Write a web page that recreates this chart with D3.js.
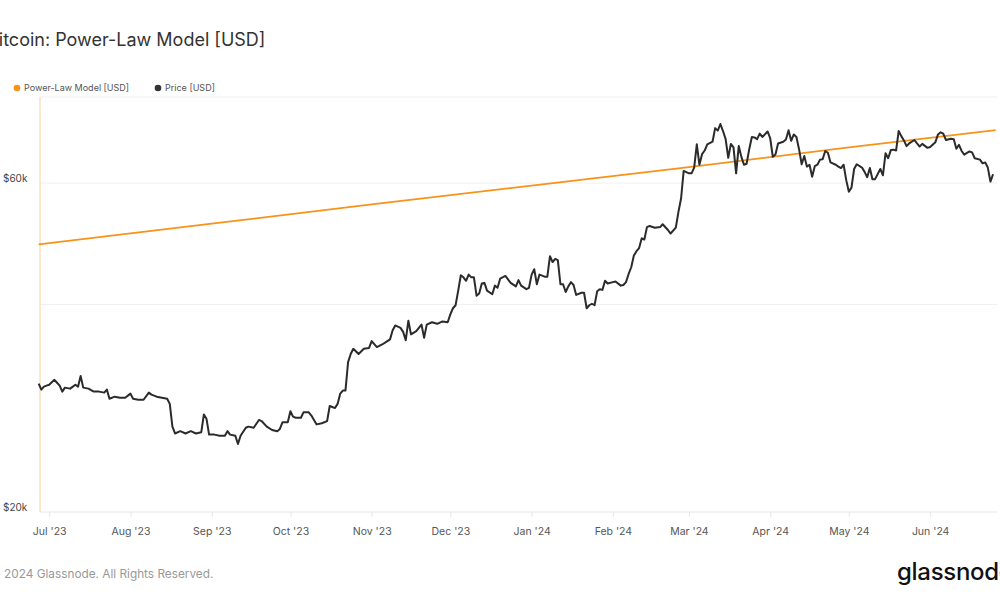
<!DOCTYPE html>
<html>
<head>
<meta charset="utf-8">
<script src="https://cdn.jsdelivr.net/npm/d3@7"></script>
<style>
  body { margin: 0; background: #fff; }
  svg { display: block; font-family: Inter, "Noto Sans", sans-serif; }
</style>
</head>
<body>
<svg id="chart" width="1000" height="600"></svg>
<script>
// price, USD (thousands)
var priceDates = [
  "2023-06-27","2023-06-28","2023-06-29","2023-06-30","2023-07-01","2023-07-03","2023-07-04","2023-07-05","2023-07-06","2023-07-07",
  "2023-07-09","2023-07-11","2023-07-12","2023-07-13","2023-07-14","2023-07-16","2023-07-18","2023-07-20","2023-07-22","2023-07-23",
  "2023-07-24","2023-07-26","2023-07-28","2023-07-30","2023-08-01","2023-08-02","2023-08-04","2023-08-06","2023-08-08","2023-08-09",
  "2023-08-11","2023-08-13","2023-08-15","2023-08-16","2023-08-17","2023-08-18","2023-08-20","2023-08-22","2023-08-24","2023-08-26",
  "2023-08-28","2023-08-29","2023-08-30","2023-08-31","2023-09-02","2023-09-04","2023-09-06","2023-09-07","2023-09-08","2023-09-10",
  "2023-09-11","2023-09-12","2023-09-14","2023-09-15","2023-09-17","2023-09-19","2023-09-20","2023-09-22","2023-09-24","2023-09-26",
  "2023-09-27","2023-09-28","2023-09-30","2023-10-01","2023-10-02","2023-10-03","2023-10-05","2023-10-06","2023-10-08","2023-10-09",
  "2023-10-11","2023-10-13","2023-10-15","2023-10-16","2023-10-17","2023-10-18","2023-10-19","2023-10-20","2023-10-21","2023-10-22",
  "2023-10-23","2023-10-24","2023-10-25","2023-10-27","2023-10-29","2023-10-31","2023-11-01","2023-11-03","2023-11-05","2023-11-07",
  "2023-11-08","2023-11-09","2023-11-10","2023-11-12","2023-11-13","2023-11-14","2023-11-15","2023-11-16","2023-11-18","2023-11-20",
  "2023-11-21","2023-11-22","2023-11-24","2023-11-26","2023-11-28","2023-11-30","2023-12-01","2023-12-02","2023-12-03","2023-12-04",
  "2023-12-05","2023-12-06","2023-12-07","2023-12-08","2023-12-09","2023-12-10","2023-12-11","2023-12-12","2023-12-13","2023-12-14",
  "2023-12-15","2023-12-17","2023-12-18","2023-12-19","2023-12-20","2023-12-22","2023-12-24","2023-12-26","2023-12-27","2023-12-28",
  "2023-12-30","2023-12-31","2024-01-01","2024-01-02","2024-01-03","2024-01-04","2024-01-06","2024-01-07","2024-01-08","2024-01-09",
  "2024-01-10","2024-01-11","2024-01-12","2024-01-13","2024-01-14","2024-01-15","2024-01-16","2024-01-17","2024-01-18","2024-01-20",
  "2024-01-21","2024-01-22","2024-01-23","2024-01-24","2024-01-25","2024-01-26","2024-01-27","2024-01-28","2024-01-29","2024-01-30",
  "2024-02-01","2024-02-02","2024-02-04","2024-02-05","2024-02-06","2024-02-07","2024-02-08","2024-02-09","2024-02-10","2024-02-11",
  "2024-02-12","2024-02-13","2024-02-14","2024-02-15","2024-02-17","2024-02-19","2024-02-20","2024-02-22","2024-02-23","2024-02-25",
  "2024-02-26","2024-02-27","2024-02-28","2024-03-01","2024-03-02","2024-03-03","2024-03-04","2024-03-05","2024-03-06","2024-03-07",
  "2024-03-08","2024-03-10","2024-03-11","2024-03-12","2024-03-13","2024-03-14","2024-03-15","2024-03-16","2024-03-17","2024-03-18",
  "2024-03-19","2024-03-20","2024-03-21","2024-03-22","2024-03-23","2024-03-24","2024-03-25","2024-03-26","2024-03-27","2024-03-28",
  "2024-03-29","2024-03-31","2024-04-01","2024-04-02","2024-04-03","2024-04-04","2024-04-06","2024-04-07","2024-04-08","2024-04-09",
  "2024-04-10","2024-04-11","2024-04-12","2024-04-13","2024-04-14","2024-04-15","2024-04-16","2024-04-17","2024-04-18","2024-04-19",
  "2024-04-20","2024-04-21","2024-04-22","2024-04-23","2024-04-24","2024-04-26","2024-04-27","2024-04-28","2024-04-29","2024-04-30",
  "2024-05-01","2024-05-02","2024-05-03","2024-05-04","2024-05-06","2024-05-07","2024-05-08","2024-05-09","2024-05-10","2024-05-11",
  "2024-05-13","2024-05-14","2024-05-15","2024-05-16","2024-05-17","2024-05-18","2024-05-19","2024-05-20","2024-05-21","2024-05-22",
  "2024-05-23","2024-05-24","2024-05-26","2024-05-27","2024-05-28","2024-05-29","2024-05-31","2024-06-01","2024-06-03","2024-06-04",
  "2024-06-05","2024-06-06","2024-06-07","2024-06-09","2024-06-10","2024-06-11","2024-06-12","2024-06-13","2024-06-14","2024-06-16",
  "2024-06-17","2024-06-18","2024-06-20","2024-06-21","2024-06-22","2024-06-23","2024-06-24","2024-06-25"
];
var priceValues = [
  30.7,30.1,30.4,30.5,30.6,31.1,30.8,30.5,29.9,30.3,
  30.2,30.6,30.4,31.5,30.3,30.2,29.9,29.9,29.8,30.1,
  29.2,29.4,29.3,29.3,29.7,29.2,29.1,29.1,29.8,29.6,
  29.4,29.3,29.2,28.7,26.6,26.0,26.2,26.0,26.2,26.0,
  26.1,27.7,27.3,25.9,25.9,25.8,25.8,26.2,25.9,25.8,
  25.1,25.8,26.5,26.6,26.5,27.2,27.1,26.6,26.3,26.2,
  26.4,27.0,27.0,28.0,27.5,27.4,27.4,27.9,27.9,27.6,
  26.8,26.9,27.1,28.5,28.4,28.3,28.7,29.7,30.0,30.0,
  33.0,33.9,34.5,33.9,34.5,34.6,35.4,34.7,35.0,35.4,
  35.6,36.7,37.3,37.0,36.5,35.5,37.9,36.2,36.6,37.4,
  35.8,37.4,37.7,37.5,37.8,37.7,38.7,39.5,39.9,41.9,
  44.1,43.8,43.3,44.2,43.8,43.8,41.2,41.5,42.9,43.0,
  41.9,41.4,42.6,42.3,43.6,44.0,43.0,42.5,43.4,42.6,
  42.1,42.3,44.2,45.0,42.8,44.2,43.9,43.9,47.0,46.1,
  46.6,46.4,42.8,42.8,41.7,42.5,43.1,42.7,41.3,41.6,
  41.6,39.5,39.9,40.1,39.9,41.8,42.1,42.0,43.3,42.9,
  43.1,43.2,42.6,42.7,43.1,44.3,45.3,47.1,47.8,48.3,
  49.9,49.7,51.8,52.0,51.7,51.8,52.3,51.3,50.7,51.7,
  54.5,57.0,62.5,62.0,62.0,63.2,68.3,63.8,66.1,66.9,
  68.3,68.9,72.1,71.5,73.1,71.4,69.5,65.3,68.4,67.6,
  62.0,67.9,65.5,63.8,64.0,67.2,70.0,69.9,69.5,70.8,
  70.0,71.3,69.7,65.5,66.0,68.5,68.9,69.4,71.6,69.1,
  70.6,70.0,67.2,63.9,65.7,63.4,63.8,61.3,63.5,63.8,
  64.9,65.0,66.8,66.4,64.3,63.8,63.4,63.1,63.8,60.6,
  58.3,59.1,62.9,63.9,63.2,62.3,61.2,63.1,60.8,60.8,
  62.9,61.6,66.3,65.2,67.0,67.1,66.9,71.4,70.2,69.2,
  67.9,68.5,69.3,68.5,67.8,68.4,67.5,67.7,68.8,70.6,
  71.1,70.8,69.3,69.6,69.5,67.3,68.2,66.8,66.0,66.7,
  66.5,65.2,64.9,64.1,64.3,63.2,60.3,61.8
];

// power-law model, USD (thousands)
var modelDates = ["2023-06-27","2023-09-01","2023-11-01","2024-01-01","2024-03-01","2024-05-01","2024-06-26"];
var modelValues = [48.9, 52.4, 55.9, 59.5, 63.3, 67.6, 71.6];

var monthTicks = ["2023-07-01","2023-08-01","2023-09-01","2023-10-01","2023-11-01","2023-12-01",
                  "2024-01-01","2024-02-01","2024-03-01","2024-04-01","2024-05-01","2024-06-01"];
var gridValues = [20, 40, 60, 80];
var labelValues = [20, 60];

var parse = d3.timeParse("%Y-%m-%d");
var price = priceDates.map((d, i) => ({date: parse(d), value: priceValues[i] * 1000}));
var model = modelDates.map((d, i) => ({date: parse(d), value: modelValues[i] * 1000}));

var svg = d3.select("#chart");
var plotLeft = 40, plotRight = 997, plotTop = 97, plotBottom = 512;

var x = d3.scaleTime()
  .domain([new Date(2023, 5, 27, 12), new Date(2024, 5, 26, 12)])
  .range([plotLeft, plotRight]);
var y = d3.scaleLog()
  .domain([20000, 80000])
  .range([plotBottom, plotTop]);

// title (left edge is cropped in the original)
svg.append("text")
  .attr("x", -13).attr("y", 46)
  .attr("font-size", 18).attr("fill", "#333")
  .text("Bitcoin: Power-Law Model [USD]");

// legend
var legend = [
  {label: "Power-Law Model [USD]", color: "#f7931a", x: 17},
  {label: "Price [USD]", color: "#333", x: 158}
];
legend.forEach(function(l) {
  svg.append("circle").attr("cx", l.x).attr("cy", 88).attr("r", 3.3).attr("fill", l.color);
  svg.append("text").attr("x", l.x + 7).attr("y", 88).attr("dy", "0.35em")
    .attr("font-size", 9).attr("fill", "#555").text(l.label);
});

// horizontal grid
svg.append("g").selectAll("line")
  .data(gridValues)
  .enter().append("line")
  .attr("x1", plotLeft).attr("x2", plotRight)
  .attr("y1", d => y(d * 1000)).attr("y2", d => y(d * 1000))
  .attr("stroke", d => d == 20 ? "#e6e6e6" : "#f0f0f0")
  .attr("stroke-width", 1);

// y labels
svg.append("g").selectAll("text")
  .data(labelValues)
  .enter().append("text")
  .attr("x", 3).attr("y", d => y(d * 1000) - 5).attr("dy", "0.35em")
  .attr("font-size", 10).attr("fill", "#444")
  .text(d => "$" + d + "k");

// x axis
var xAxis = d3.axisBottom(x)
  .tickValues(monthTicks.map(parse))
  .tickSize(5)
  .tickPadding(11)
  .tickFormat(d3.timeFormat("%b '%y"));

var gx = svg.append("g")
  .attr("transform", "translate(0," + plotBottom + ")")
  .call(xAxis);
gx.select(".domain").remove();
gx.selectAll(".tick line").attr("stroke", "#e6e6e6");
gx.selectAll(".tick text").attr("font-size", 10.5).attr("fill", "#555")
  .attr("font-family", "Inter, 'Noto Sans', sans-serif");

// left axis line (series colour)
svg.append("line")
  .attr("x1", plotLeft).attr("x2", plotLeft)
  .attr("y1", plotTop).attr("y2", plotBottom)
  .attr("stroke", "#fcd9ae").attr("stroke-width", 1.2);

var line = d3.line()
  .x(d => x(d.date))
  .y(d => y(d.value));

svg.append("path")
  .datum(model)
  .attr("d", line)
  .attr("fill", "none")
  .attr("stroke", "#f7931a")
  .attr("stroke-width", 1.8);

svg.append("path")
  .datum(price)
  .attr("d", line)
  .attr("fill", "none")
  .attr("stroke", "#2b2b2b")
  .attr("stroke-width", 2)
  .attr("stroke-linejoin", "round");

// footer
svg.append("text")
  .attr("x", -10).attr("y", 578)
  .attr("font-size", 11.8).attr("fill", "#999")
  .text("© 2024 Glassnode. All Rights Reserved.");

svg.append("text")
  .attr("x", 897).attr("y", 580)
  .attr("font-size", 24).attr("font-weight", 500).attr("fill", "#111")
  .attr("letter-spacing", -0.3)
  .text("glassnode");
</script>
</body>
</html>
